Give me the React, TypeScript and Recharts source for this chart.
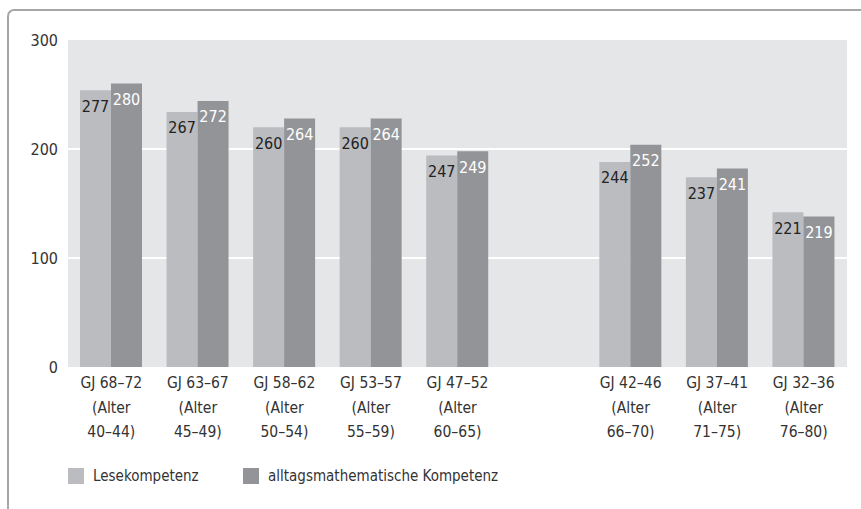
import { BarChart, Bar, XAxis, YAxis, Legend, LabelList, CartesianGrid } from "recharts";

const cohorts = ["GJ 68–72", "GJ 63–67", "GJ 58–62", "GJ 53–57", "GJ 47–52", "", "GJ 42–46", "GJ 37–41", "GJ 32–36"];
const ages = ["40–44", "45–49", "50–54", "55–59", "60–65", "", "66–70", "71–75", "76–80"];
const lesekompetenz = [277, 267, 260, 260, 247, null, 244, 237, 221];
const alltagsmathe = [280, 272, 264, 264, 249, null, 252, 241, 219];
const yTicks = [150, 200, 250, 300];
const yTickLabels = ["0", "100", "200", "300"];
const gridValues = [200, 250];

const data = cohorts.map((c, i) => ({
    name: c,
    age: ages[i],
    lese: lesekompetenz[i],
    mathe: alltagsmathe[i],
}));

const FONT = '"Liberation Sans Narrow", "DejaVu Sans Condensed", "Liberation Sans", sans-serif';
const LIGHT = "#bbbcc0";
const DARK = "#939497";
const TEXT = "#333333";

const CohortTick = (props: any) => {
    const { x, y, index } = props;
    if (!cohorts[index]) return null;
    return (
        <text x={x} y={y} textAnchor="middle" fill={TEXT} fontSize={15.5} fontFamily={FONT}>
            <tspan x={x} dy={21}>{cohorts[index]}</tspan>
            <tspan x={x} dy={24.5}>(Alter</tspan>
            <tspan x={x} dy={24.5}>{ages[index]})</tspan>
        </text>
    );
};

const LegendContent = () => (
    <div style={{ display: "flex", alignItems: "center", height: 20, fontFamily: FONT, fontSize: 15, color: TEXT }}>
        <span style={{ width: 16, height: 16, background: LIGHT, display: "inline-block" }} />
        <span style={{ marginLeft: 9, width: 150 }}>Lesekompetenz</span>
        <span style={{ width: 16, height: 16, background: DARK, display: "inline-block" }} />
        <span style={{ marginLeft: 9 }}>alltagsmathematische Kompetenz</span>
    </div>
);

export default function App() {
    return (
        <div style={{ position: "absolute", left: 0, top: 0, width: 861, height: 509, background: "#fff" }}>
            <div
                style={{
                    position: "absolute",
                    left: 7,
                    top: 9,
                    width: 870,
                    height: 520,
                    borderTop: "2px solid #a6a6a6",
                    borderLeft: "2px solid #a6a6a6",
                    borderTopLeftRadius: 7,
                }}
            />
            <BarChart
                width={861}
                height={509}
                data={data}
                margin={{ top: 40, right: 14, left: 0, bottom: 32 }}
                barSize={31}
                barGap={0}
                style={{ position: "absolute", left: 0, top: 0 }}
            >
                <CartesianGrid
                    vertical={false}
                    fill="#e5e6e8"
                    stroke="#ffffff"
                    strokeWidth={2}
                    horizontalValues={gridValues}
                />
                <XAxis
                    dataKey="name"
                    height={90}
                    axisLine={false}
                    tickLine={false}
                    tickSize={0}
                    tickMargin={0}
                    interval={0}
                    tick={<CohortTick />}
                />
                <YAxis
                    domain={[150, 300]}
                    ticks={yTicks}
                    width={68}
                    axisLine={false}
                    tickLine={false}
                    tickSize={0}
                    tickMargin={10}
                    tickFormatter={(v: number, i: number) => yTickLabels[i]}
                    tick={{ fill: TEXT, fontSize: 16, fontFamily: FONT }}
                />
                <Legend
                    layout="horizontal"
                    verticalAlign="bottom"
                    align="left"
                    content={<LegendContent />}
                    wrapperStyle={{ left: 68, top: 466, bottom: "auto", width: 500, height: 20 }}
                />
                <Bar dataKey="lese" name="Lesekompetenz" fill={LIGHT} isAnimationActive={false}>
                    <LabelList dataKey="lese" position="insideTop" offset={10} fill="#222" fontSize={16} fontFamily={FONT} />
                </Bar>
                <Bar dataKey="mathe" name="alltagsmathematische Kompetenz" fill={DARK} isAnimationActive={false}>
                    <LabelList dataKey="mathe" position="insideTop" offset={10} fill="#ffffff" fontSize={16} fontFamily={FONT} />
                </Bar>
            </BarChart>
        </div>
    );
}
